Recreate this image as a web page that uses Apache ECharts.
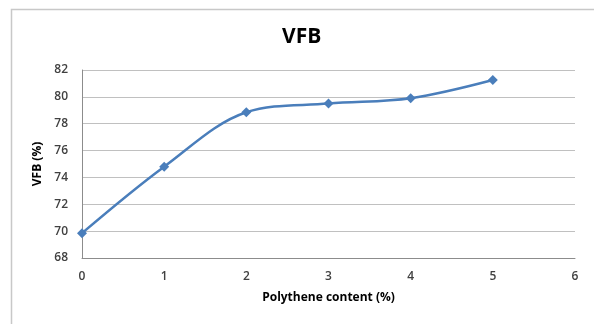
<!DOCTYPE html>
<html>
<head>
<meta charset="utf-8">
<script src="https://cdn.jsdelivr.net/npm/echarts@6/dist/echarts.min.js"></script>
<style>
  html, body { margin: 0; padding: 0; background: #fff; }
  #chart { width: 594px; height: 324px; }
</style>
</head>
<body>
<div id="chart"></div>
<script>
// Polythene content (%) vs VFB (%)
const polytheneContent = [0, 1, 2, 3, 4, 5];
const vfbValues = [69.85, 74.8, 78.85, 79.5, 79.9, 81.25];
const yTicks = [68, 70, 72, 74, 76, 78, 80, 82];
const xTicks = [0, 1, 2, 3, 4, 5, 6];

const labelFont = { fontFamily: 'Open Sans', fontWeight: 600, fontSize: 12, color: '#404040' };
const nameFont = { fontFamily: 'Open Sans', fontWeight: 700, fontSize: 12, color: '#000' };

const chart = echarts.init(document.getElementById('chart'), null, { renderer: 'canvas' });
chart.setOption({
  animation: false,
  backgroundColor: '#ffffff',
  title: {
    text: 'VFB',
    left: 277,
    top: 22,
    textStyle: { fontFamily: 'Open Sans', fontWeight: 700, fontSize: 21, color: '#000' }
  },
  graphic: [{
    type: 'rect',
    shape: { x: 11.5, y: 9.5, width: 700, height: 400 },
    style: { fill: 'none', stroke: '#c8c8c8', lineWidth: 1.5 },
    silent: true
  }],
  grid: { left: 82, right: 19, top: 70, bottom: 66 },
  xAxis: {
    type: 'value',
    min: xTicks[0],
    max: xTicks[xTicks.length - 1],
    interval: 1,
    name: 'Polythene content (%)',
    nameLocation: 'middle',
    nameGap: 34,
    nameTextStyle: nameFont,
    axisLine: { show: true, lineStyle: { color: '#8c8c8c', width: 1 } },
    axisTick: { show: false },
    splitLine: { show: false },
    axisLabel: Object.assign({ margin: 13 }, labelFont)
  },
  yAxis: {
    type: 'value',
    min: yTicks[0],
    max: yTicks[yTicks.length - 1],
    interval: 2,
    name: 'VFB (%)',
    nameLocation: 'middle',
    nameGap: 34,
    nameTextStyle: nameFont,
    axisLine: { show: true, lineStyle: { color: '#8c8c8c', width: 1 } },
    axisTick: { show: false },
    splitLine: { show: true, lineStyle: { color: '#c0c0c0', width: 1 } },
    axisLabel: Object.assign({ margin: 14 }, labelFont)
  },
  series: [{
    type: 'line',
    data: polytheneContent.map((x, i) => [x, vfbValues[i]]),
    smooth: 0.35,
    symbol: 'diamond',
    symbolSize: 10,
    itemStyle: { color: '#4a7ebb' },
    lineStyle: { color: '#4a7ebb', width: 2.5 }
  }]
});
</script>
</body>
</html>
